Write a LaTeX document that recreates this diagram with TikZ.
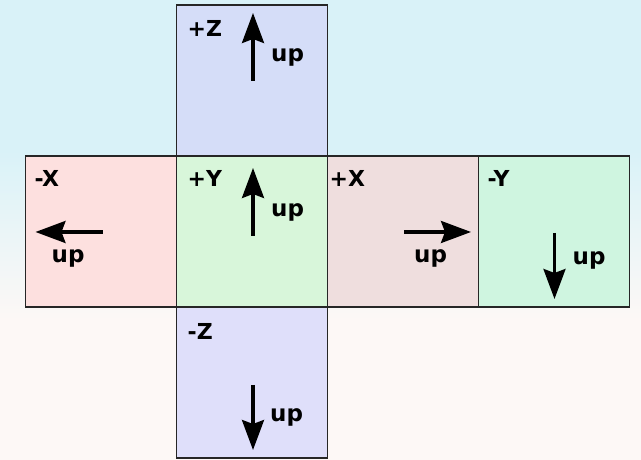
\documentclass[tikz,border=0pt]{standalone}
\usepackage{fontspec}
\setmainfont{DejaVu Sans}
\usepackage{xcolor}
\usepackage{tikz}
\usetikzlibrary{arrows.meta,calc,positioning}

\definecolor{bgtop}{HTML}{D9F2F8}
\definecolor{bgbot}{HTML}{FDF8F6}
\definecolor{zpos}{HTML}{D5DDF8}
\definecolor{zneg}{HTML}{DFDFFA}
\definecolor{ypos}{HTML}{D8F6DA}
\definecolor{yneg}{HTML}{CFF5E0}
\definecolor{xpos}{HTML}{EFDEDE}
\definecolor{xneg}{HTML}{FDE0DF}

\begin{document}
\begin{tikzpicture}[x=1pt,y=1pt,
  face/.style={draw=black!85,line width=1.8pt,minimum size=151pt,inner sep=0pt,outer sep=0pt},
  facename/.style={anchor=base west,inner sep=0pt,font=\fontsize{22}{25}\selectfont\bfseries},
  uptext/.style={anchor=base west,inner sep=0pt,font=\fontsize{23}{26}\selectfont\bfseries},
  uparrow/.style={line width=3.2pt,-{Stealth[length=30pt,width=22pt,inset=4pt]}}]
\useasboundingbox (0,0) rectangle (641,460);
% background
\fill[bgtop] (0,310) rectangle (641,460);
\shade[top color=bgtop,bottom color=bgbot] (0,140) rectangle (641,310);
\fill[bgbot] (0,0) rectangle (641,140);
% faces
\node[face,fill=ypos] (py) at (252,228.5) {};
\node[face,fill=zpos,above=0pt of py] (pz) {};
\node[face,fill=zneg,below=0pt of py] (nz) {};
\node[face,fill=xneg,left=0pt of py] (nx) {};
\node[face,fill=xpos,right=0pt of py] (px) {};
\node[face,fill=yneg,right=0pt of px] (ny) {};
% names
\node[facename] (pzname) at ($(pz.north west)+(11,-32)$) {+Z};
\node[facename] (pyname) at ($(py.north west)+(11,-31)$) {+Y};
\node[facename] (nxname) at ($(nx.north west)+(9,-31)$) {-X};
\node[facename] (pxname) at ($(px.north west)+(2,-31)$) {+X};
\node[facename] (nyname) at ($(ny.north west)+(9,-31)$) {-Y};
\node[facename] (nzname) at ($(nz.north west)+(11,-33)$) {-Z};
% up vectors
\draw[uparrow] ($(pz.center)+(1,-0.5)$) -- ($(pz.center)+(1,67.5)$);
\draw[uparrow] ($(py.center)+(1,-4.5)$) -- ($(py.center)+(1,63.5)$);
\draw[uparrow] ($(nx.center)+(1.5,-0.5)$) -- ($(nx.center)+(-65.5,-0.5)$);
\draw[uparrow] ($(px.center)+(1,-0.5)$) -- ($(px.center)+(68,-0.5)$);
\draw[uparrow] ($(ny.center)+(0.5,-1.5)$) -- ($(ny.center)+(0.5,-67.5)$);
\draw[uparrow] ($(nz.center)+(1,-2.5)$) -- ($(nz.center)+(1,-67.5)$);
\node[uptext] (pzup) at ($(pz.center)+(19,18.5)$) {up};
\node[uptext] (pyup) at ($(py.center)+(19,14.5)$) {up};
\node[uptext] (nxup) at ($(nx.center)+(-49.5,-31.5)$) {up};
\node[uptext] (pxup) at ($(px.center)+(11,-31.5)$) {up};
\node[uptext] (nyup) at ($(ny.center)+(18.5,-33.5)$) {up};
\node[uptext] (nzup) at ($(nz.center)+(18,-39.5)$) {up};
\end{tikzpicture}
\end{document}
